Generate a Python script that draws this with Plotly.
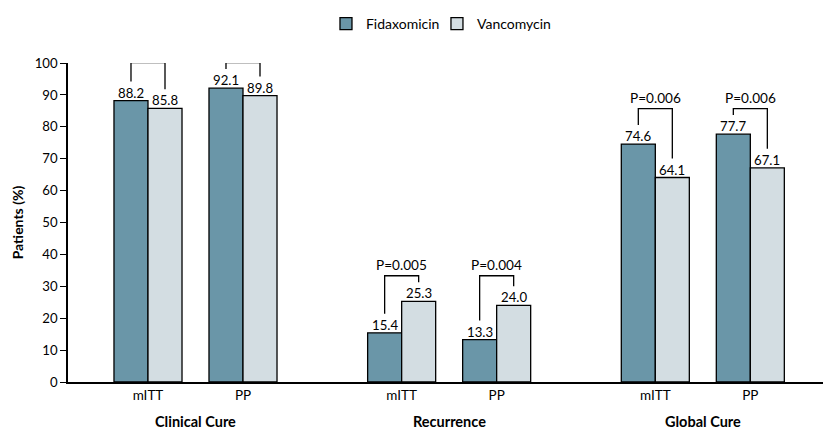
import plotly.graph_objects as go

groups = ["Clinical Cure", "Recurrence", "Global Cure"]
subgroups = ["mITT", "PP"]
fidaxomicin = [88.2, 92.1, 15.4, 13.3, 74.6, 77.7]
vancomycin = [85.8, 89.8, 25.3, 24.0, 64.1, 67.1]
p_values = [None, None, "P=0.005", "P=0.004", "P=0.006", "P=0.006"]
y_ticks = [0, 10, 20, 30, 40, 50, 60, 70, 80, 90, 100]

FID_COLOR = "#6a96a8"
VAN_COLOR = "#d3dde2"
FONT = "Lato, 'Open Sans', sans-serif"
FS = 13.2

group_step = 2.67
bar_w = 0.358
x_centers = []
tick_text = []
for gi, g in enumerate(groups):
    for si, s in enumerate(subgroups):
        x_centers.append(gi * group_step + si)
        tick_text.append(s)

fig = go.Figure()
for name, vals, color, off, leg in [("Fidaxomicin", fidaxomicin, FID_COLOR, -bar_w, "legend"),
                                    ("Vancomycin", vancomycin, VAN_COLOR, 0, "legend2")]:
    fig.add_trace(go.Bar(
        x=x_centers, y=vals, name=name, width=bar_w, offset=off, legend=leg,
        marker=dict(color=color, line=dict(color="black", width=1.3)),
        hoverinfo="skip",
    ))

annotations = []
# value labels
for vals, dx in [(fidaxomicin, -bar_w / 2), (vancomycin, bar_w / 2)]:
    for xc, v in zip(x_centers, vals):
        annotations.append(dict(x=xc + dx, y=v, xref="x", yref="y", text=f"{v:.1f}",
                                showarrow=False, yanchor="bottom", yshift=-2,
                                font=dict(size=FS, color="black", family=FONT)))

# brackets
bx, by = [], []
for i, xc in enumerate(x_centers):
    gi = i // 2
    gmax = max(fidaxomicin[2 * gi:2 * gi + 2] + vancomycin[2 * gi:2 * gi + 2])
    top = gmax + 8
    xl = xc - bar_w / 2
    xr = xc + bar_w / 2
    bx += [xl, xl, xr, xr, None]
    by += [fidaxomicin[i] + 6, top, top, vancomycin[i] + 6, None]
    if p_values[i]:
        annotations.append(dict(x=xc, y=top, xref="x", yref="y", text=p_values[i],
                                showarrow=False, yanchor="bottom", yshift=1,
                                font=dict(size=13.6, color="black", family=FONT)))
fig.add_trace(go.Scatter(x=bx, y=by, mode="lines", line=dict(color="black", width=1.3),
                         showlegend=False, hoverinfo="skip", cliponaxis=False))

for gi, g in enumerate(groups):
    annotations.append(dict(x=gi * group_step + 0.5, y=-0.125, xref="x", yref="paper",
                            text=f"<b>{g}</b>", showarrow=False, yanchor="middle",
                            font=dict(size=14.5, color="black", family=FONT)))

legend_common = dict(orientation="h", xanchor="left", yref="container",
                     y=1 - 16 / 430, yanchor="middle", bgcolor="rgba(0,0,0,0)",
                     font=dict(size=14, family=FONT), itemwidth=30)

fig.update_layout(
    width=827, height=430,
    margin=dict(l=60, r=12, t=55, b=56, autoexpand=False),
    paper_bgcolor="white", plot_bgcolor="white",
    font=dict(family=FONT, size=FS, color="black"),
    barmode="overlay",
    showlegend=True,
    legend=dict(x=0.3417, **legend_common),
    legend2=dict(x=0.4887, **legend_common),
    annotations=annotations,
)
fig.update_xaxes(range=[-0.842, 7.105], tickvals=x_centers, ticktext=tick_text,
                 showline=True, linecolor="black", linewidth=1.5, showgrid=False,
                 zeroline=False, ticks="", tickfont=dict(size=13.5), automargin=False)
fig.update_yaxes(range=[0, 100], tickvals=y_ticks, showline=True, linecolor="black",
                 linewidth=1.5, showgrid=False, zeroline=False, ticks="outside",
                 ticklen=6, tickwidth=1.3, tickcolor="black", tickfont=dict(size=13.2),
                 automargin=False,
                 title=dict(text="<b>Patients (%)</b>", font=dict(size=14), standoff=8))

fig.write_html("out.html")
